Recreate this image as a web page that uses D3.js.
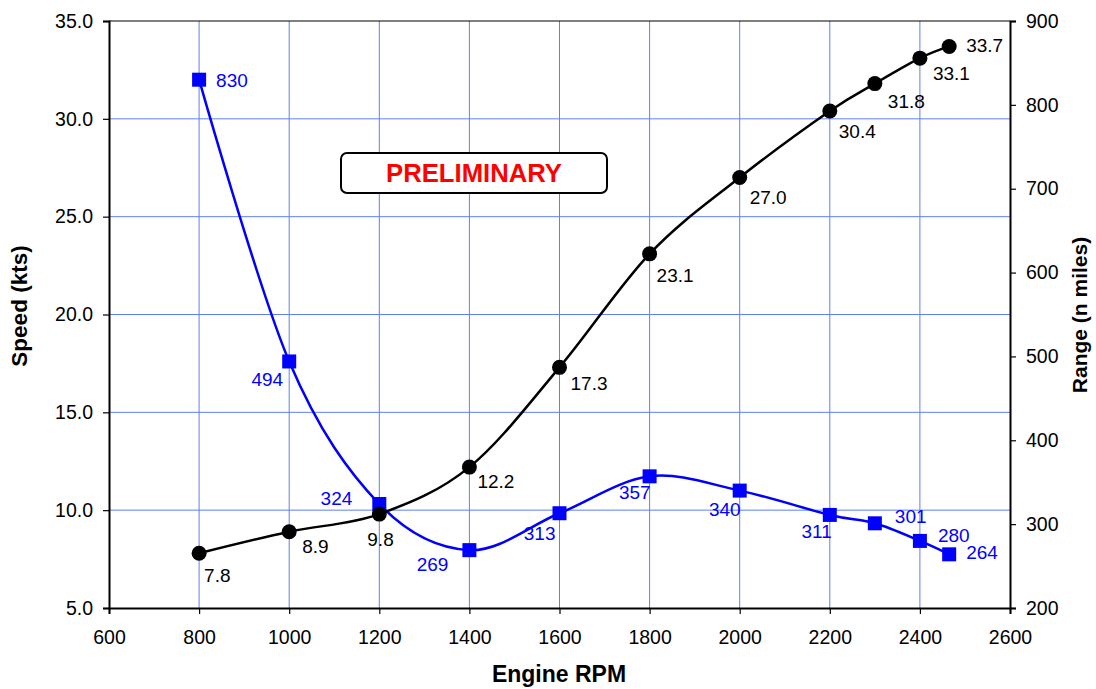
<!DOCTYPE html>
<html>
<head>
<meta charset="utf-8">
<script src="https://cdn.jsdelivr.net/npm/d3@7"></script>
<style>
  html, body { margin: 0; padding: 0; background: #fff; }
  svg { display: block; font-family: "Liberation Sans", Arial, sans-serif; }
</style>
</head>
<body>
<svg id="chart" width="1096" height="689"></svg>
<script>
// ---- data ----
const rpm = [800, 1000, 1200, 1400, 1600, 1800, 2000, 2200, 2300, 2400, 2465];
const speedKts = [7.8, 8.9, 9.8, 12.2, 17.3, 23.1, 27.0, 30.4, 31.8, 33.1, 33.7];
const rangeNm = [830, 494, 324, 269, 313, 357, 340, 311, 301, 280, 264];
const xTicks = [600, 800, 1000, 1200, 1400, 1600, 1800, 2000, 2200, 2400, 2600];
const speedTicks = [5, 10, 15, 20, 25, 30, 35];
const rangeTicks = [200, 300, 400, 500, 600, 700, 800, 900];
const stampText = "PRELIMINARY";

// ---- label placement (pixel offsets from each marker) ----
const speedLabelOffset = [[5,29,"start"],[13,21,"start"],[-12,32,"start"],[8,21,"start"],[11,23,"start"],[7,28,"start"],[10,26,"start"],[9,27,"start"],[13,24,"start"],[13,22,"start"],[17,6,"start"]];
const rangeLabelOffset = [[17,7,"start"],[-6,25,"end"],[-27,1,"end"],[-21,21,"end"],[-4,27,"end"],[1,23,"end"],[1,25,"end"],[2,23,"end"],[20,0,"start"],[18,1,"start"],[17,5,"start"]];

const svg = d3.select("#chart");
const L = 109, R = 1010, T = 21, B = 608;
const gridColor = "#6080f0";
const blue = "#0000ff";

const x = d3.scaleLinear().domain([600, 2600]).range([L, R]);
const yS = d3.scaleLinear().domain([5, 35]).range([B, T]);
const yR = d3.scaleLinear().domain([200, 900]).range([B, T]);

// gridlines
const grid = svg.append("g");
grid.selectAll("line.v").data(xTicks.filter(d => d > 600 && d < 2600)).enter()
  .append("line").attr("x1", d => x(d)).attr("x2", d => x(d)).attr("y1", T).attr("y2", B)
  .attr("stroke", gridColor).attr("stroke-width", 1);
grid.selectAll("line.h").data(speedTicks.filter(d => d > 5 && d < 35)).enter()
  .append("line").attr("y1", d => yS(d)).attr("y2", d => yS(d)).attr("x1", L).attr("x2", R)
  .attr("stroke", gridColor).attr("stroke-width", 1);

// top border
svg.append("line").attr("x1", L).attr("x2", R).attr("y1", T).attr("y2", T)
  .attr("stroke", "#000").attr("stroke-width", 1.2);

// axes
const fmt1 = d3.format(".1f");
const axL = svg.append("g").attr("transform", `translate(${L},0)`)
  .call(d3.axisLeft(yS).tickValues(speedTicks).tickFormat(fmt1).tickSize(6).tickPadding(10));
const axR = svg.append("g").attr("transform", `translate(${R},0)`)
  .call(d3.axisRight(yR).tickValues(rangeTicks).tickFormat(d3.format("d")).tickSize(6).tickPadding(10));
const axB = svg.append("g").attr("transform", `translate(0,${B})`)
  .call(d3.axisBottom(x).tickValues(xTicks).tickFormat(d3.format("d")).tickSize(6).tickPadding(16));
[axL, axR, axB].forEach(a => {
  a.select(".domain").attr("stroke", "#000").attr("stroke-width", 2);
  a.selectAll(".tick line").attr("stroke", "#000").attr("stroke-width", 1.2);
  a.selectAll(".tick text").attr("fill", "#000").style("font-size", "19.5px")
    .style("font-family", "'Liberation Sans', Arial, sans-serif");
});

// axis titles
svg.append("text").attr("transform", `translate(27,306) rotate(-90)`)
  .attr("text-anchor", "middle").style("font-weight", "bold").style("font-size", "22.5px")
  .text("Speed (kts)");
svg.append("text").attr("transform", `translate(1087,315) rotate(-90)`)
  .attr("text-anchor", "middle").style("font-weight", "bold").style("font-size", "21px")
  .text("Range (n miles)");
svg.append("text").attr("x", 559).attr("y", 682)
  .attr("text-anchor", "middle").style("font-weight", "bold").style("font-size", "23px")
  .text("Engine RPM");

// lines
const curve = d3.curveCatmullRom.alpha(0);
const speedPts = rpm.map((r, i) => [r, speedKts[i]]);
const rangePts = rpm.map((r, i) => [r, rangeNm[i]]);
svg.append("path").datum(rangePts)
  .attr("d", d3.line().x(d => x(d[0])).y(d => yR(d[1])).curve(curve))
  .attr("fill", "none").attr("stroke", blue).attr("stroke-width", 2.5);
svg.append("path").datum(speedPts)
  .attr("d", d3.line().x(d => x(d[0])).y(d => yS(d[1])).curve(curve))
  .attr("fill", "none").attr("stroke", "#000").attr("stroke-width", 2.5);

// markers
svg.append("g").selectAll("rect").data(rangePts).enter().append("rect")
  .attr("x", d => x(d[0]) - 7).attr("y", d => yR(d[1]) - 7)
  .attr("width", 14).attr("height", 14).attr("fill", blue);
svg.append("g").selectAll("circle").data(speedPts).enter().append("circle")
  .attr("cx", d => x(d[0])).attr("cy", d => yS(d[1])).attr("r", 7.5).attr("fill", "#000");

// data labels
svg.append("g").selectAll("text").data(speedPts).enter().append("text")
  .attr("x", (d, i) => x(d[0]) + speedLabelOffset[i][0])
  .attr("y", (d, i) => yS(d[1]) + speedLabelOffset[i][1])
  .attr("text-anchor", (d, i) => speedLabelOffset[i][2])
  .style("font-size", "19px").attr("fill", "#000")
  .text(d => fmt1(d[1]));
svg.append("g").selectAll("text").data(rangePts).enter().append("text")
  .attr("x", (d, i) => x(d[0]) + rangeLabelOffset[i][0])
  .attr("y", (d, i) => yR(d[1]) + rangeLabelOffset[i][1])
  .attr("text-anchor", (d, i) => rangeLabelOffset[i][2])
  .style("font-size", "19px").attr("fill", blue)
  .text(d => d3.format("d")(d[1]));

// PRELIMINARY stamp
svg.append("rect").attr("x", 341).attr("y", 153).attr("width", 266).attr("height", 40)
  .attr("rx", 6).attr("fill", "#fff").attr("stroke", "#000").attr("stroke-width", 2);
svg.append("text").attr("x", 474).attr("y", 182).attr("text-anchor", "middle")
  .style("font-weight", "bold").style("font-size", "25px").attr("fill", "#ff0000")
  .attr("textLength", 176).attr("lengthAdjust", "spacingAndGlyphs")
  .text(stampText);
</script>
</body>
</html>
